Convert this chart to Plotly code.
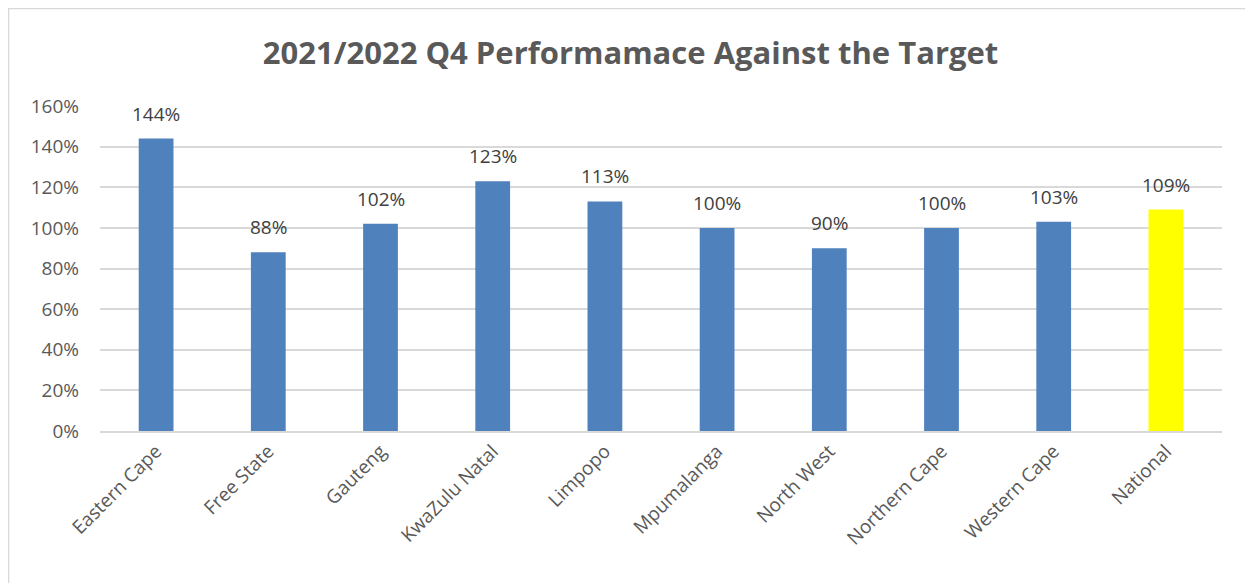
import plotly.graph_objects as go

provinces = ['Eastern Cape', 'Free State', 'Gauteng', 'KwaZulu Natal', 'Limpopo',
             'Mpumalanga', 'North West', 'Northern Cape', 'Western Cape', 'National']
performance = [1.44, 0.88, 1.02, 1.23, 1.13, 1.00, 0.90, 1.00, 1.03, 1.09]
bar_colors = ['#4f81bd'] * 9 + ['#ffff00']

grey = '#595959'
font = 'Open Sans'

fig = go.Figure()
fig.add_trace(go.Bar(
    x=provinces,
    y=performance,
    marker_color=bar_colors,
    marker_line_width=0,
    hovertemplate='%{x}: %{y:.0%}<extra></extra>',
))

# data labels sit a little higher above the bars than plotly's own outside text
for prov, val in zip(provinces, performance):
    fig.add_annotation(x=prov, y=val, text=f'{val:.0%}', showarrow=False,
                       yanchor='bottom', yshift=10,
                       font=dict(family=font, size=19, color='#404040'))

# page body has an 8px margin, so the figure is 8px smaller and shifted
fig.update_layout(
    title=dict(text='<b>2021/2022 Q4 Performamace Against the Target</b>',
               x=0.5, xanchor='center', y=0.922, yanchor='middle',
               font=dict(family=font, size=31, color=grey)),
    width=1245, height=575,
    margin=dict(l=92, r=31, t=98, b=152),
    paper_bgcolor='white',
    plot_bgcolor='white',
    bargap=0.69,
    showlegend=False,
    font=dict(family=font, color=grey),
)
fig.update_xaxes(
    tickangle=-45,
    tickfont=dict(family=font, size=19, color=grey),
    showline=True, linecolor='#d9d9d9', linewidth=1.5,
    ticks='',
)
fig.update_yaxes(
    range=[0, 1.6], dtick=0.2, tickformat='.0%',
    tickfont=dict(family=font, size=19, color=grey),
    showgrid=True, gridcolor='#d9d9d9', gridwidth=1.5,
    zeroline=False, ticks='', ticklabelstandoff=20,
)

# chart frame
fig.add_shape(type='rect', xref='paper', yref='paper',
              x0=-0.0815, x1=1.025, y0=-0.6, y1=1.3,
              line=dict(color='#d9d9d9', width=1.5), layer='below')

fig.write_html('out.html')
